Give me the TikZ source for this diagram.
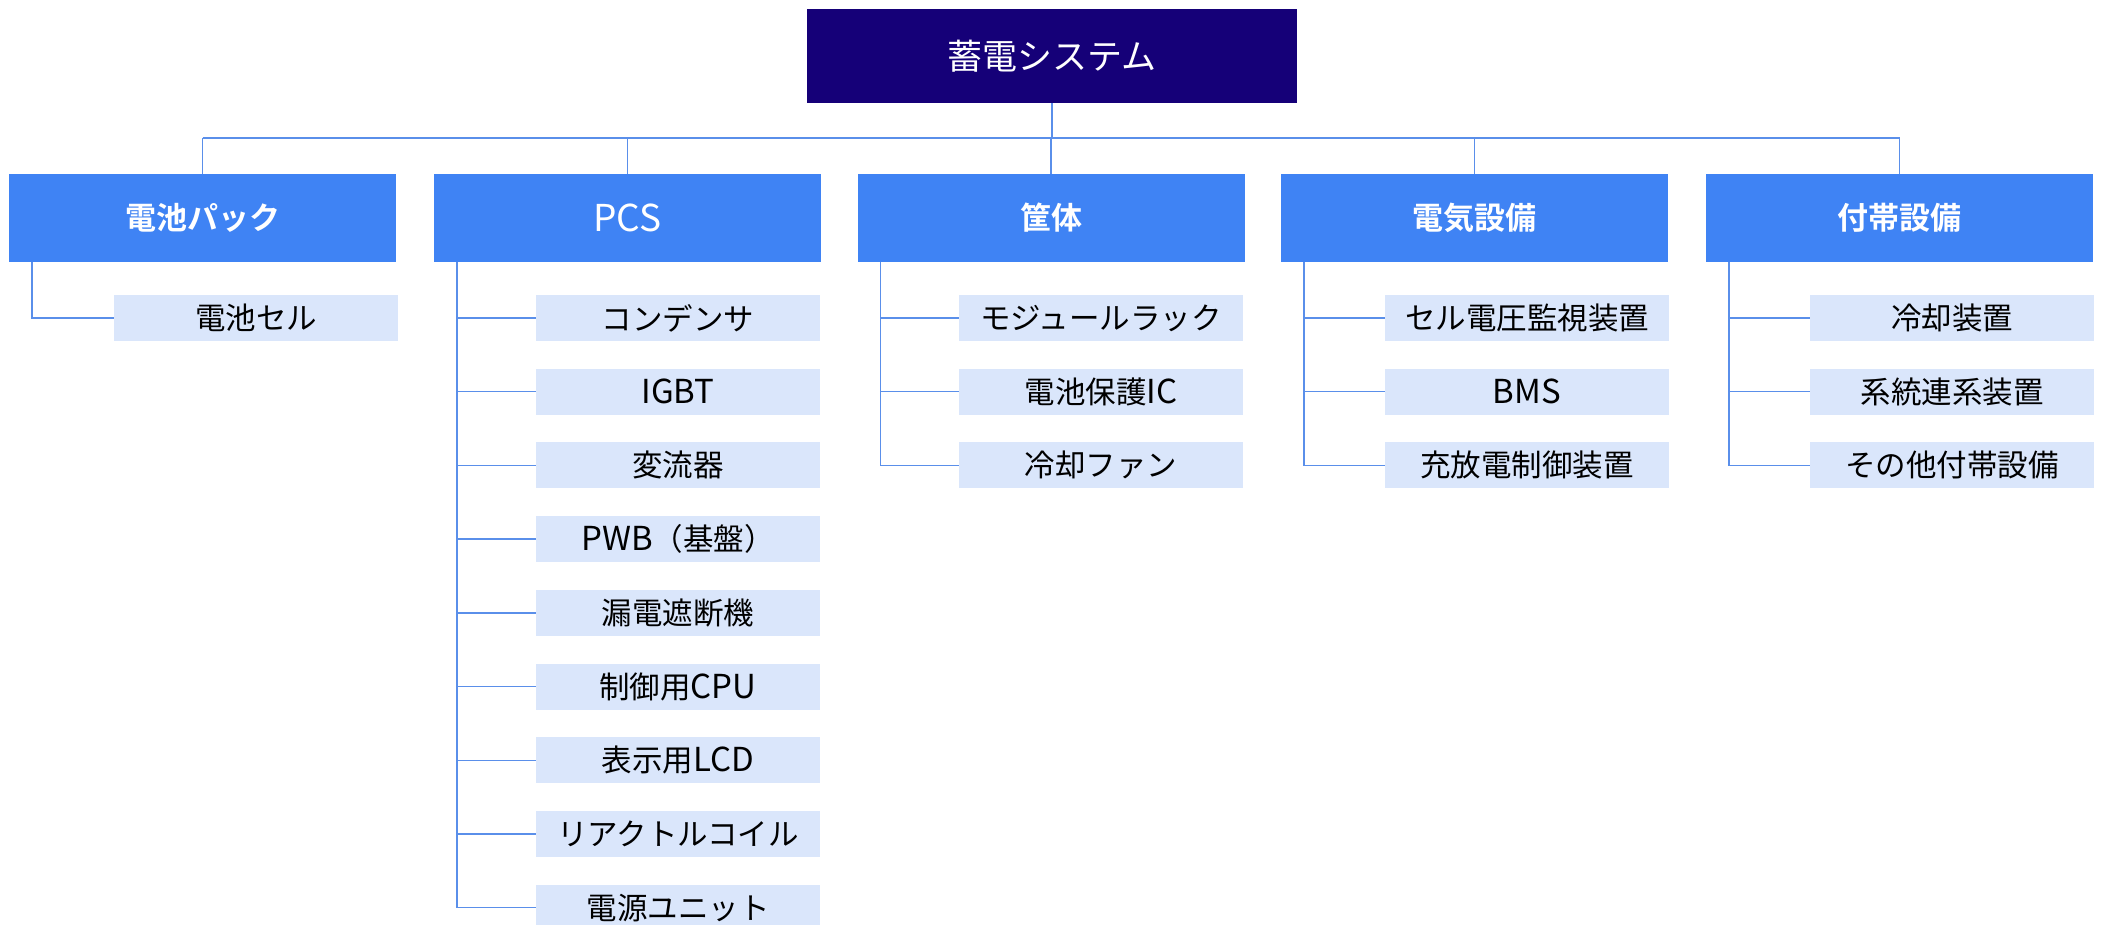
\documentclass[tikz,border=0pt]{standalone}
\usepackage{fontspec}
\newfontfamily\jp{Noto Sans CJK JP}
\newfontfamily\jpb{Noto Sans CJK JP Bold}
\definecolor{navy}{HTML}{150078}
\definecolor{lblue}{HTML}{3F83F4}
\definecolor{pale}{HTML}{DAE6FB}
\definecolor{wire}{HTML}{5A8FEA}
\tikzset{
  topbox/.style={fill=navy, text=white, minimum width=490pt, minimum height=94pt, inner sep=0pt, font=\jp\fontsize{35}{40}\selectfont},
  catbox/.style={fill=lblue, text=white, minimum width=387pt, minimum height=88pt, inner sep=0pt, font=\jpb\fontsize{31}{36}\selectfont},
  subbox/.style={fill=pale, text=black, minimum width=284pt, minimum height=46pt, inner sep=0pt, font=\jp\fontsize{30.5}{34}\selectfont},
  conn/.style={draw=wire, line width=1.4pt}
}
\newcommand{\lat}[1]{{\fontsize{33}{34}\selectfont #1}}
\begin{document}
\begin{tikzpicture}[x=1pt,y=-1pt]
\useasboundingbox (0,0) rectangle (2101,925);
\clip (0,0) rectangle (2101,925);
\node[topbox] (top) at (1052,56) {\raisebox{-2pt}{蓄電システム}};
\coordinate (bus) at (0,138);
% categories
\node[catbox] (c1) at (202.5,218) {電池パック};
\node[catbox] (c2) at (627.5,218) {\jp\fontsize{37}{40}\selectfont PCS};
\node[catbox] (c3) at (1051,218) {筐体};
\node[catbox] (c4) at (1474.5,218) {電気設備};
\node[catbox] (c5) at (1899.5,218) {付帯設備};
\draw[conn] (c1.north |- bus) -- (c5.north |- bus);
\draw[conn] (top.south) -- (top.south |- bus);
\foreach \c in {c1,c2,c3,c4,c5} \draw[conn] (\c.north |- bus) -- (\c.north);
% sub items
\node[subbox] (a1) at (256,318) {電池セル};
\node[subbox] (b1) at (678,318) {コンデンサ};
\node[subbox] (b2) at (678,391.7) {\lat{IGBT}};
\node[subbox] (b3) at (678,465.4) {変流器};
\node[subbox] (b4) at (678,539.1) {\lat{PWB}（基盤）};
\node[subbox] (b5) at (678,612.8) {漏電遮断機};
\node[subbox] (b6) at (678,686.5) {制御用\lat{CPU}};
\node[subbox] (b7) at (678,760.2) {表示用\lat{LCD}};
\node[subbox] (b8) at (678,833.9) {リアクトルコイル};
\node[subbox] (b9) at (678,907.6) {電源ユニット};
\node[subbox] (d1) at (1101,318) {モジュールラック};
\node[subbox] (d2) at (1101,391.7) {電池保護\lat{IC}};
\node[subbox] (d3) at (1101,465.4) {冷却ファン};
\node[subbox] (e1) at (1527,318) {セル電圧監視装置};
\node[subbox] (e2) at (1527,391.7) {\lat{BMS}};
\node[subbox] (e3) at (1527,465.4) {充放電制御装置};
\node[subbox] (f1) at (1952,318) {冷却装置};
\node[subbox] (f2) at (1952,391.7) {系統連系装置};
\node[subbox] (f3) at (1952,465.4) {その他付帯設備};
\draw[conn] ([xshift=23pt]c1.south west) |- (a1.west);
\foreach \s in {b1,b2,b3,b4,b5,b6,b7,b8,b9} \draw[conn] ([xshift=23pt]c2.south west) |- (\s.west);
\foreach \s in {d1,d2,d3} \draw[conn] ([xshift=23pt]c3.south west) |- (\s.west);
\foreach \s in {e1,e2,e3} \draw[conn] ([xshift=23pt]c4.south west) |- (\s.west);
\foreach \s in {f1,f2,f3} \draw[conn] ([xshift=23pt]c5.south west) |- (\s.west);
\end{tikzpicture}
\end{document}
